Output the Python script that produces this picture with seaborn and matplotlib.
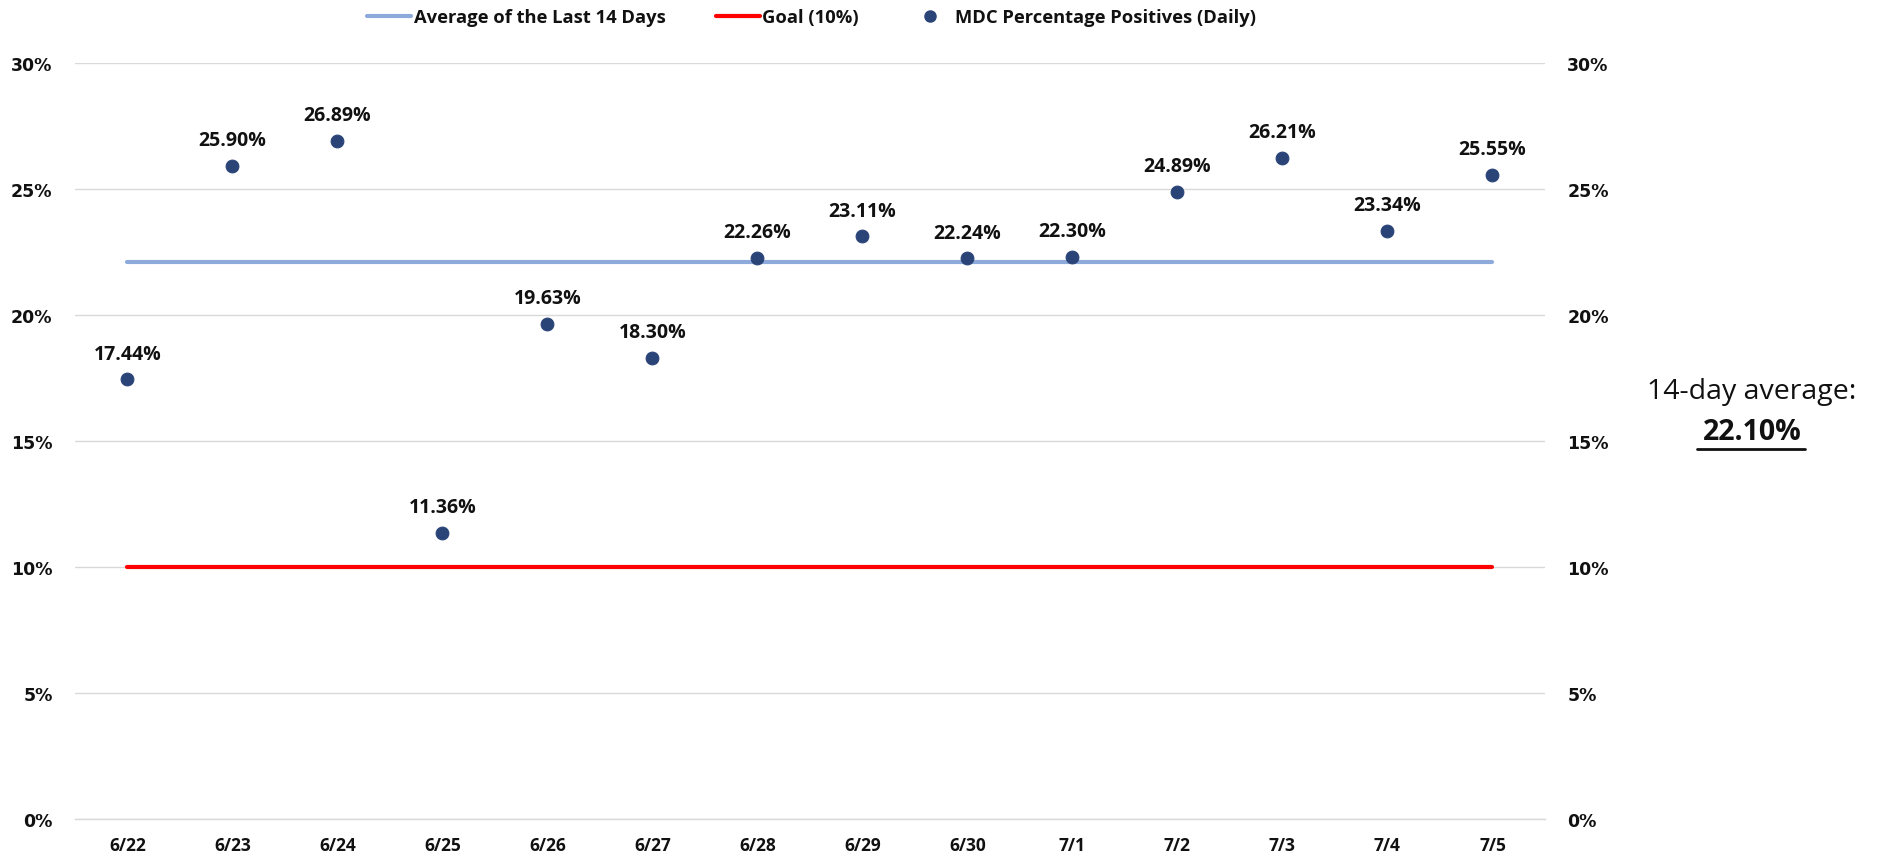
import matplotlib
matplotlib.use("Agg")
import matplotlib.pyplot as plt
import seaborn as sns
import pandas as pd
import numpy as np
from matplotlib.ticker import FuncFormatter, FixedLocator
from matplotlib.lines import Line2D

dates = ["6/22", "6/23", "6/24", "6/25", "6/26", "6/27", "6/28",
         "6/29", "6/30", "7/1", "7/2", "7/3", "7/4", "7/5"]
daily_pct = [17.44, 25.90, 26.89, 11.36, 19.63, 18.30, 22.26,
             23.11, 22.24, 22.30, 24.89, 26.21, 23.34, 25.55]
avg_14 = 22.10
goal = 10.0

sns.set_theme(style="white")
plt.rcParams['font.family'] = ['Open Sans', 'DejaVu Sans']

pos = list(range(len(dates)))
df = pd.DataFrame({"pos": pos, "date": dates, "daily": daily_pct,
                   "avg": [avg_14] * len(dates), "goal": [goal] * len(dates)})

fig = plt.figure(figsize=(18.88, 8.62), dpi=100)
ax = fig.add_axes([0.0396, 0.0487, 0.7787, 0.8773])

avg_color = "#8eaadb"
goal_color = "#ff0000"
dot_color = "#2a4478"

sns.lineplot(data=df, x="pos", y="avg", ax=ax, color=avg_color, linewidth=3, zorder=2)
sns.lineplot(data=df, x="pos", y="goal", ax=ax, color=goal_color, linewidth=3, zorder=2)
sns.scatterplot(data=df, x="pos", y="daily", ax=ax, color=dot_color, s=85, edgecolor=dot_color, zorder=3)

for x, v in zip(pos, daily_pct):
    ax.annotate(f"{v:.2f}%", (x, v), xytext=(0, 15), textcoords="offset points",
                ha="center", va="baseline", fontsize=14, fontweight="bold", color="#111111")

ax.set_xlim(-0.5, len(dates) - 0.5)
ax.set_ylim(0, 30)
ax.set_yticks(np.arange(0, 31, 5))
ax.yaxis.set_major_formatter(FuncFormatter(lambda v, p: f"{v:.0f}%"))
ax.set_xticks(pos)
ax.set_xticklabels(dates, fontweight="bold", fontsize=12.5, color="#111111")
ax.xaxis.set_minor_locator(FixedLocator(np.arange(-0.5, len(dates), 1.0)))
ax.tick_params(axis="x", which="major", length=0, pad=12)
ax.tick_params(axis="x", which="minor", length=6, color="#d0d0d0", width=1, direction="out")
ax.tick_params(axis="y", which="major", length=0, labelright=True, labelleft=True, pad=16,
               labelsize=12.5, labelcolor="#111111")
for t in ax.yaxis.get_major_ticks():
    for lab in (t.label1, t.label2):
        lab.set_fontweight("bold")
        lab.set_fontfamily("DejaVu Sans")
ax.set_xlabel("")
ax.set_ylabel("")

ax.grid(axis="y", color="#d9d9d9", linewidth=1)
ax.set_axisbelow(True)
for s in ["top", "left", "right"]:
    ax.spines[s].set_visible(False)
ax.spines["bottom"].set_color("#d9d9d9")
ax.spines["bottom"].set_linewidth(1)

handles = [Line2D([0], [0], color=avg_color, linewidth=3),
           Line2D([0], [0], color=goal_color, linewidth=3),
           Line2D([0], [0], marker="o", linestyle="", markersize=8,
                  markerfacecolor=dot_color, markeredgecolor=dot_color)]
labels = ["Average of the Last 14 Days", "Goal (10%)", "MDC Percentage Positives (Daily)"]
leg = fig.legend(handles, labels, loc="center", bbox_to_anchor=(0.43, 0.979), ncol=3,
                 frameon=False, prop={"family": "Open Sans", "weight": "bold", "size": 13.2},
                 handlelength=2.4, handletextpad=0.15, columnspacing=2.7)
for t in leg.get_texts():
    t.set_color("#111111")

fig.text(0.928, 0.545, "14-day average:", ha="center", va="center",
         fontfamily="Open Sans", fontsize=20.5, color="#111111")
fig.text(0.928, 0.498, f"{avg_14:.2f}%", ha="center", va="center",
         fontfamily="Open Sans", fontsize=20.5, fontweight="bold", color="#111111")
# underline for average value
fig.add_artist(Line2D([0.899, 0.956], [0.478, 0.478], transform=fig.transFigure,
                      color="#111111", linewidth=2))

fig.savefig("out.png", dpi=100)
